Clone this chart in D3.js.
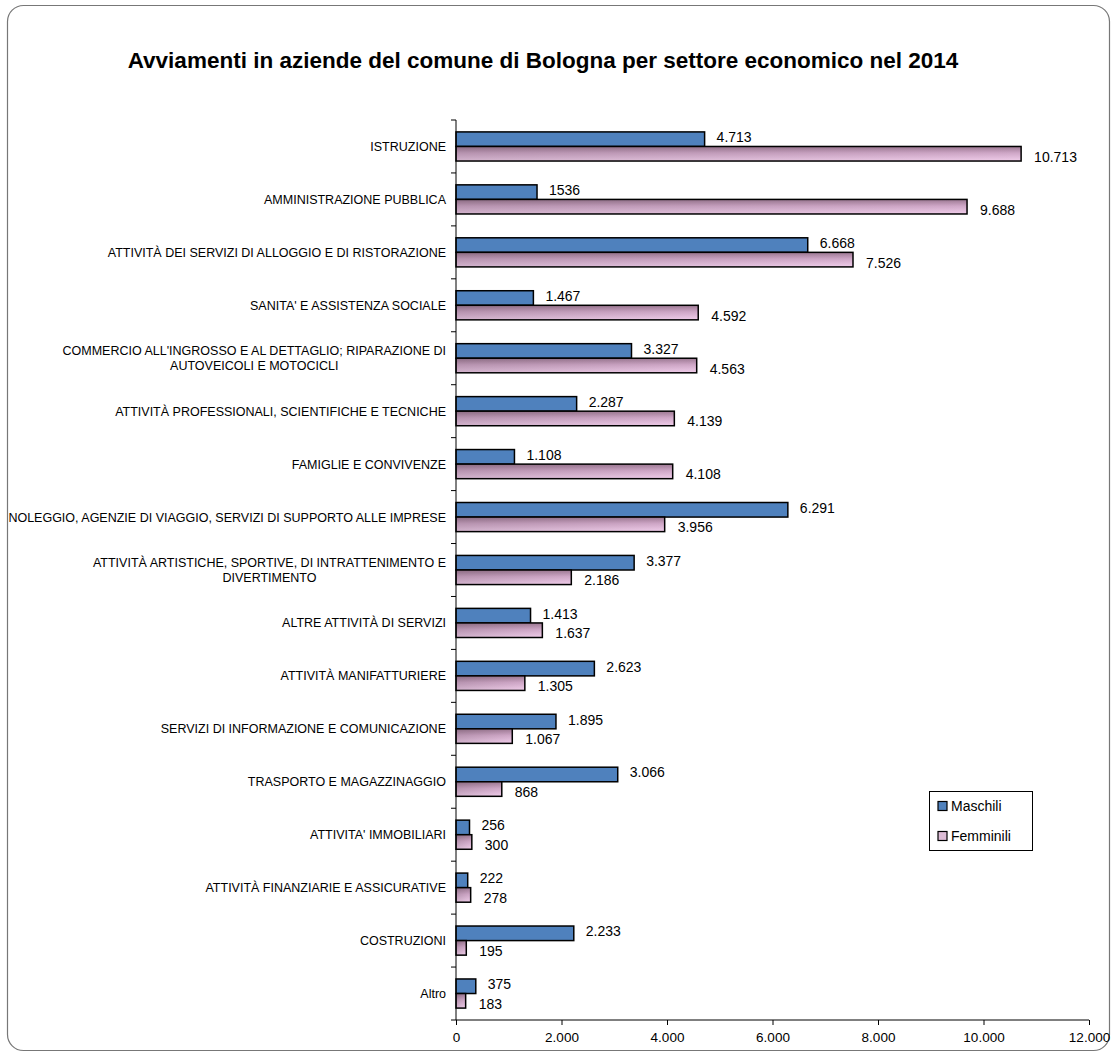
<!DOCTYPE html>
<html><head><meta charset="utf-8">
<script src="https://cdn.jsdelivr.net/npm/d3@7"></script>
<style>body{margin:0;background:#fff;} svg{display:block;font-family:"Liberation Sans",Arial,sans-serif;}</style>
</head><body>
<svg id="c" width="1115" height="1054"></svg>
<script>
const categories = [
  "ISTRUZIONE",
  "AMMINISTRAZIONE PUBBLICA",
  "ATTIVITÀ DEI SERVIZI DI ALLOGGIO E DI RISTORAZIONE",
  "SANITA' E ASSISTENZA SOCIALE",
  "COMMERCIO ALL'INGROSSO E AL DETTAGLIO; RIPARAZIONE DI\nAUTOVEICOLI E MOTOCICLI",
  "ATTIVITÀ PROFESSIONALI, SCIENTIFICHE E TECNICHE",
  "FAMIGLIE E CONVIVENZE",
  "NOLEGGIO, AGENZIE DI VIAGGIO, SERVIZI DI SUPPORTO ALLE IMPRESE",
  "ATTIVITÀ ARTISTICHE, SPORTIVE, DI INTRATTENIMENTO E\nDIVERTIMENTO",
  "ALTRE ATTIVITÀ DI SERVIZI",
  "ATTIVITÀ MANIFATTURIERE",
  "SERVIZI DI INFORMAZIONE E COMUNICAZIONE",
  "TRASPORTO E MAGAZZINAGGIO",
  "ATTIVITA' IMMOBILIARI",
  "ATTIVITÀ FINANZIARIE E ASSICURATIVE",
  "COSTRUZIONI",
  "Altro"
];
const maschili = [4713, 1536, 6668, 1467, 3327, 2287, 1108, 6291, 3377, 1413, 2623, 1895, 3066, 256, 222, 2233, 375];
const femminili = [10713, 9688, 7526, 4592, 4563, 4139, 4108, 3956, 2186, 1637, 1305, 1067, 868, 300, 278, 195, 183];
const maschiliLabels = ["4.713", "1536", "6.668", "1.467", "3.327", "2.287", "1.108", "6.291", "3.377", "1.413", "2.623", "1.895", "3.066", "256", "222", "2.233", "375"];
const seriesNames = ["Maschili", "Femminili"];
const xTicks = [0, 2000, 4000, 6000, 8000, 10000, 12000];
const title = "Avviamenti in aziende del comune di Bologna per settore economico nel 2014";

const loc = d3.formatLocale({decimal: ",", thousands: ".", grouping: [3], currency: ["€", ""]});
const fmt = loc.format(",d");

const svg = d3.select("#c");
const defs = svg.append("defs");
const g1 = defs.append("linearGradient").attr("id", "fem").attr("x1", 0).attr("y1", 0).attr("x2", 0).attr("y2", 1);
g1.append("stop").attr("offset", "0%").attr("stop-color", "#9c7892");
g1.append("stop").attr("offset", "45%").attr("stop-color", "#cfa7c7");
g1.append("stop").attr("offset", "100%").attr("stop-color", "#f0cdea");
const g2 = defs.append("linearGradient").attr("id", "femH").attr("x1", 0).attr("y1", 0).attr("x2", 1).attr("y2", 0);
g2.append("stop").attr("offset", "0%").attr("stop-color", "#000").attr("stop-opacity", 0.12);
g2.append("stop").attr("offset", "100%").attr("stop-color", "#000").attr("stop-opacity", 0);

// frame
svg.append("rect").attr("x", 7.5).attr("y", 5.5).attr("width", 1102).attr("height", 1045)
  .attr("rx", 16).attr("fill", "#fff").attr("stroke", "#777").attr("stroke-width", 1.2);

svg.append("text").attr("x", 543).attr("y", 68).attr("text-anchor", "middle")
  .attr("font-size", 22.5).attr("font-weight", "bold").attr("fill", "#000").text(title);

const pLeft = 456, pRight = 1089, pTop = 120, pBottom = 1020;
const x = d3.scaleLinear().domain([0, 12000]).range([pLeft, pRight]);
const y = d3.scaleBand().domain(categories).range([pTop, pBottom]).paddingInner(0.45).paddingOuter(0.225);
const sub = d3.scaleBand().domain(seriesNames).range([0, y.bandwidth()]);
const step = y.step();

// bars
const rows = categories.map((c, i) => ({c, m: maschili[i], f: femminili[i], ml: maschiliLabels[i], fl: fmt(femminili[i])}));
const gr = svg.append("g");
rows.forEach(r => {
  const y0 = y(r.c);
  gr.append("rect").attr("x", x(0)).attr("y", y0 + sub("Maschili")).attr("width", x(r.m) - x(0)).attr("height", sub.bandwidth())
    .attr("fill", "#4f81bd").attr("stroke", "#000").attr("stroke-width", 1.5);
  gr.append("rect").attr("x", x(0)).attr("y", y0 + sub("Femminili")).attr("width", x(r.f) - x(0)).attr("height", sub.bandwidth())
    .attr("fill", "url(#fem)").attr("stroke", "none");
  gr.append("rect").attr("x", x(0)).attr("y", y0 + sub("Femminili")).attr("width", x(r.f) - x(0)).attr("height", sub.bandwidth())
    .attr("fill", "url(#femH)").attr("stroke", "#000").attr("stroke-width", 1.5);
  gr.append("text").attr("x", x(r.m) + 12).attr("y", y0 + sub("Maschili") + sub.bandwidth() / 2 + 3)
    .attr("font-size", 14).attr("fill", "#000").text(r.ml);
  gr.append("text").attr("x", x(r.f) + 13).attr("y", y0 + sub("Femminili") + sub.bandwidth() / 2 + 8)
    .attr("font-size", 14).attr("fill", "#000").text(r.fl);
});

// y axis
const ya = svg.append("g");
ya.append("line").attr("x1", pLeft).attr("x2", pLeft).attr("y1", pTop).attr("y2", pBottom).attr("stroke", "#000").attr("stroke-width", 1);
d3.range(categories.length + 1).forEach(k => {
  const yy = pTop + k * step;
  ya.append("line").attr("x1", pLeft - 5).attr("x2", pLeft).attr("y1", yy).attr("y2", yy).attr("stroke", "#000");
});
const catSize = 12.5;
categories.forEach(c => {
  const lines = c.split("\n");
  const cy = y(c) + y.bandwidth() / 2;
  const t = ya.append("text").attr("font-size", catSize).attr("fill", "#000");
  if (lines.length === 1) {
    t.attr("x", 446).attr("y", cy + 4.5).attr("text-anchor", "end").text(c);
  } else {
    const tmp = ya.append("text").attr("font-size", catSize).text(lines[0]);
    const w = tmp.node().getComputedTextLength();
    tmp.remove();
    const cx = 446 - w / 2;
    lines.forEach((ln, j) => {
      t.append("tspan").attr("x", cx).attr("y", cy - 3 + j * 14.5).attr("text-anchor", "middle").text(ln);
    });
  }
});

// x axis
const xa = svg.append("g").attr("transform", `translate(0,${pBottom})`)
  .call(d3.axisBottom(x).tickValues(xTicks).tickSize(5).tickPadding(7).tickFormat(d => fmt(d)));
xa.select(".domain").attr("stroke", "#000").attr("d", `M${pLeft},0H${pRight}`);
xa.selectAll(".tick line").attr("stroke", "#000");
xa.selectAll("text").attr("font-size", 13.5).attr("font-family", "'Liberation Sans',Arial,sans-serif").attr("fill", "#000");

// legend
const lg = svg.append("g");
lg.append("rect").attr("x", 929.5).attr("y", 791.5).attr("width", 103).attr("height", 59).attr("fill", "#fff").attr("stroke", "#000").attr("stroke-width", 1);
seriesNames.forEach((s, i) => {
  const yy = 806 + i * 30;
  lg.append("rect").attr("x", 938).attr("y", yy - 4.5).attr("width", 9).attr("height", 9)
    .attr("fill", i === 0 ? "#4f81bd" : "#ddbcd6").attr("stroke", "#000").attr("stroke-width", 1.2);
  lg.append("text").attr("x", 951).attr("y", yy + 5).attr("font-size", 14).attr("fill", "#000").text(s);
});
</script>
</body></html>
